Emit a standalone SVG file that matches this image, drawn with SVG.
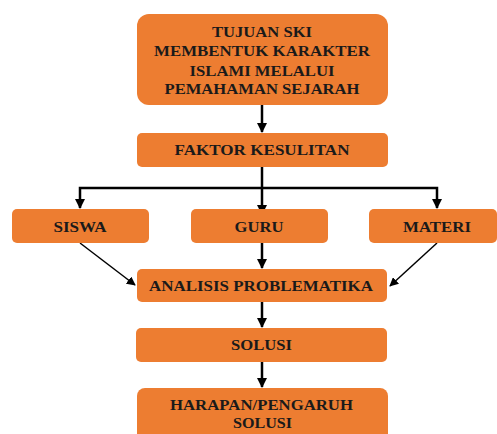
<svg xmlns="http://www.w3.org/2000/svg" width="497" height="434" viewBox="0 0 497 434">
<style>
.box{fill:#ED7D31;}
.t{font-family:"Liberation Serif","Times New Roman",serif;font-weight:bold;font-size:15px;fill:#1a1a1a;text-anchor:middle;}
.c{stroke:#000;fill:none;stroke-width:2.5;}
.d{stroke:#000;fill:none;stroke-width:1.5;}
</style>
<defs>
<marker id="ah" viewBox="0 0 10 10" refX="9" refY="5" markerWidth="4" markerHeight="4" orient="auto" markerUnits="strokeWidth"><path d="M0,0 L10,5 L0,10 z" fill="#000"/></marker>
<marker id="ah2" viewBox="0 0 10 10" refX="9" refY="5" markerWidth="6" markerHeight="6" orient="auto" markerUnits="strokeWidth"><path d="M0,0 L10,5 L0,10 z" fill="#000"/></marker>
</defs>
<rect width="497" height="434" fill="#fff"/>
<g id="connectors">
<line class="c" x1="262" y1="105" x2="262" y2="132" marker-end="url(#ah)"/>
<line class="c" x1="262" y1="167" x2="262" y2="214" marker-end="url(#ah)"/>
<polyline class="c" points="262,188 80,188 80,208" marker-end="url(#ah)"/>
<polyline class="c" points="262,188 437,188 437,208" marker-end="url(#ah)"/>
<line class="c" x1="262" y1="243" x2="262" y2="268" marker-end="url(#ah)"/>
<line class="d" x1="80" y1="243" x2="135" y2="285" marker-end="url(#ah2)"/>
<line class="d" x1="437" y1="243" x2="390" y2="286" marker-end="url(#ah2)"/>
<line class="c" x1="262" y1="302" x2="262" y2="327" marker-end="url(#ah)"/>
<line class="c" x1="262" y1="362" x2="262" y2="387" marker-end="url(#ah)"/>
</g>
<g id="tujuan">
<rect class="box" x="137" y="14" width="251" height="91" rx="12"/>
<text class="t" x="262" y="37" textLength="100" lengthAdjust="spacingAndGlyphs">TUJUAN SKI</text>
<text class="t" x="262" y="56" textLength="216" lengthAdjust="spacingAndGlyphs">MEMBENTUK KARAKTER</text>
<text class="t" x="262" y="76" textLength="145" lengthAdjust="spacingAndGlyphs">ISLAMI MELALUI</text>
<text class="t" x="262" y="94" textLength="195" lengthAdjust="spacingAndGlyphs">PEMAHAMAN SEJARAH</text>
</g>
<g id="faktor">
<rect class="box" x="137" y="133" width="251" height="34" rx="5"/>
<text class="t" x="262" y="155" textLength="175" lengthAdjust="spacingAndGlyphs">FAKTOR KESULITAN</text>
</g>
<g id="siswa">
<rect class="box" x="12" y="209" width="137" height="34" rx="5"/>
<text class="t" x="80" y="232" textLength="53" lengthAdjust="spacingAndGlyphs">SISWA</text>
</g>
<g id="guru">
<rect class="box" x="191" y="209" width="137" height="34" rx="5"/>
<text class="t" x="259" y="232" textLength="49" lengthAdjust="spacingAndGlyphs">GURU</text>
</g>
<g id="materi">
<rect class="box" x="369" y="209" width="128" height="34" rx="5"/>
<text class="t" x="437" y="232" textLength="68" lengthAdjust="spacingAndGlyphs">MATERI</text>
</g>
<g id="analisis">
<rect class="box" x="137" y="269" width="250" height="33" rx="5"/>
<text class="t" x="261" y="291" textLength="224" lengthAdjust="spacingAndGlyphs">ANALISIS PROBLEMATIKA</text>
</g>
<g id="solusi">
<rect class="box" x="136" y="328" width="251" height="34" rx="5"/>
<text class="t" x="261.5" y="350" textLength="61" lengthAdjust="spacingAndGlyphs">SOLUSI</text>
</g>
<g id="harapan">
<rect class="box" x="137" y="388" width="251" height="60" rx="8"/>
<text class="t" x="261.5" y="410" textLength="183" lengthAdjust="spacingAndGlyphs">HARAPAN/PENGARUH</text>
<text class="t" x="262.5" y="428" textLength="59" lengthAdjust="spacingAndGlyphs">SOLUSI</text>
</g>
</svg>
